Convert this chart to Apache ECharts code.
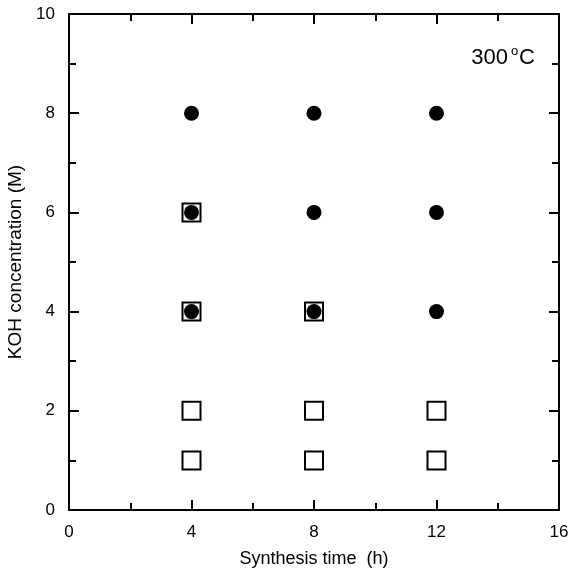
<!DOCTYPE html>
<html>
<head>
<meta charset="utf-8">
<script src="https://cdn.jsdelivr.net/npm/echarts@6/dist/echarts.min.js"></script>
<style>
html, body { margin: 0; padding: 0; background: #fff; }
#main { width: 571px; height: 572px; }
</style>
</head>
<body>
<div id="main"></div>
<script>
// KOH concentration vs synthesis time, 300 C
var xTicks = [0, 4, 8, 12, 16];
var yTicks = [0, 2, 4, 6, 8, 10];
// filled circles
var circleX = [4, 8, 12, 4, 8, 12, 4, 8, 12];
var circleY = [8, 8, 8, 6, 6, 6, 4, 4, 4];
// open squares
var squareX = [4, 4, 8, 4, 8, 12, 4, 8, 12];
var squareY = [6, 4, 4, 2, 2, 2, 1, 1, 1];

var font = 'Liberation Sans, Arial, sans-serif';

function pairs(xs, ys)
{
    var out = [];
    for (var i = 0; i < xs.length; i++) {
        out.push([xs[i], ys[i]]);
    }
    return out;
}

var myChart = echarts.init(document.getElementById('main'));

var lineStyle = { color: '#000', width: 2 };
function axisBase(extra)
{
    var a = {
        type: 'value',
        axisLine: { show: true, onZero: false, lineStyle: lineStyle },
        axisTick: { show: true, inside: true, length: 10, lineStyle: { color: '#000', width: 2 } },
        minorTick: { show: true, splitNumber: 2, length: 7, lineStyle: { color: '#000', width: 2 } },
        splitLine: { show: false },
        minorSplitLine: { show: false }
    };
    for (var k in extra) a[k] = extra[k];
    return a;
}

myChart.setOption({
    animation: false,
    backgroundColor: '#fff',
    grid: { left: 69, right: 12, top: 14, bottom: 62, containLabel: false, outerBoundsMode: 'none' },
    xAxis: [
        axisBase({
            position: 'bottom', min: xTicks[0], max: xTicks[xTicks.length - 1], interval: 4,
            name: 'Synthesis time  (h)', nameLocation: 'middle', nameGap: 40,
            nameTextStyle: { color: '#000', fontFamily: font, fontSize: 18 },
            axisLabel: { color: '#000', fontFamily: font, fontSize: 17, margin: 14 }
        }),
        axisBase({
            position: 'top', min: xTicks[0], max: xTicks[xTicks.length - 1], interval: 4,
            axisLabel: { show: false }
        })
    ],
    yAxis: [
        axisBase({
            position: 'left', min: yTicks[0], max: yTicks[yTicks.length - 1], interval: 2,
            name: 'KOH concentration (M)', nameLocation: 'middle', nameGap: 44,
            nameTextStyle: { color: '#000', fontFamily: font, fontSize: 19 },
            axisLabel: { color: '#000', fontFamily: font, fontSize: 17, margin: 14 }
        }),
        axisBase({
            position: 'right', min: yTicks[0], max: yTicks[yTicks.length - 1], interval: 2,
            axisLabel: { show: false }
        })
    ],
    graphic: [{
        type: 'text',
        right: 36,
        top: 45,
        style: {
            text: '300{sup|o}C',
            fill: '#000',
            font: '22px ' + font,
            rich: { sup: { fontSize: 13, padding: [0, 1, 12, 3], fontFamily: font } }
        }
    }],
    series: [
        {
            name: 'squares',
            type: 'scatter',
            symbol: 'rect',
            symbolSize: 18,
            z: 2,
            itemStyle: { color: 'rgba(0,0,0,0)', borderColor: '#000', borderWidth: 2, opacity: 1 },
            data: pairs(squareX, squareY)
        },
        {
            name: 'circles',
            type: 'scatter',
            symbol: 'circle',
            symbolSize: 15,
            z: 3,
            itemStyle: { color: '#000', opacity: 1 },
            data: pairs(circleX, circleY)
        }
    ]
});
</script>
</body>
</html>
